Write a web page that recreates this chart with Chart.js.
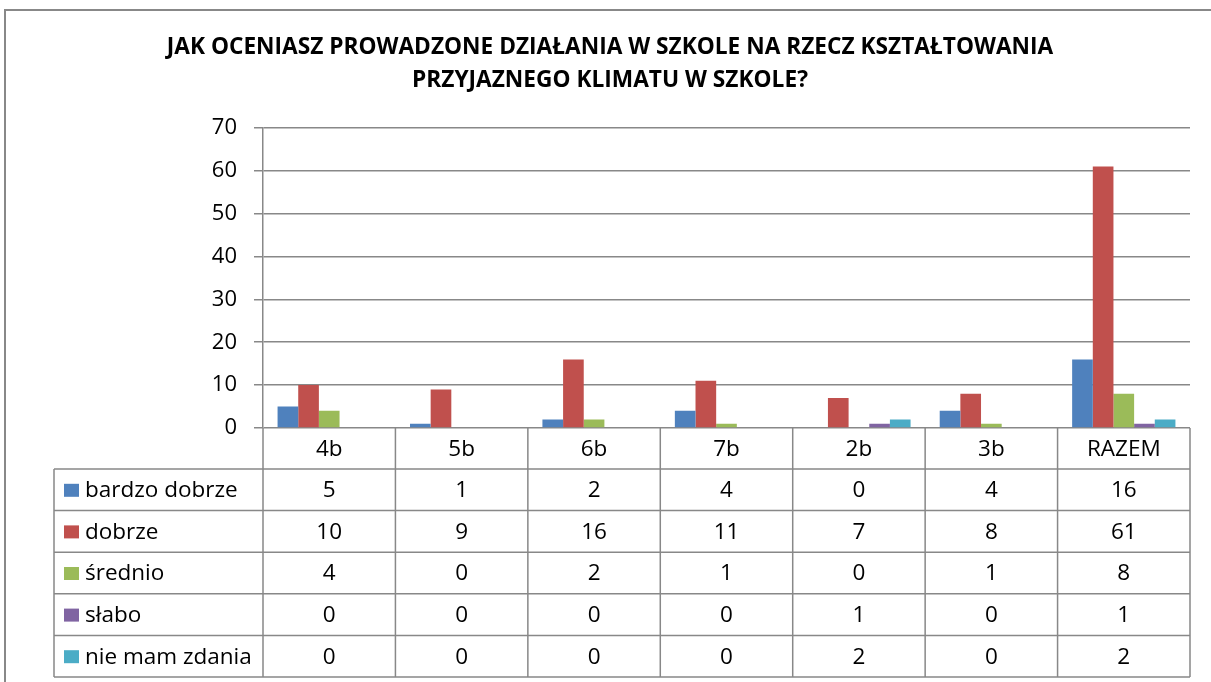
<!DOCTYPE html>
<html>
<head>
<meta charset="utf-8">
<script src="https://cdn.jsdelivr.net/npm/chart.js@4.4.1/dist/chart.umd.min.js"></script>
<style>
  html, body { margin: 0; padding: 0; background: #fff; }
</style>
</head>
<body>
<canvas id="wykres" width="1211" height="682"></canvas>
<script>
// dane z wykresu
const klasy = ['4b', '5b', '6b', '7b', '2b', '3b', 'RAZEM'];
const nazwySerii = ['bardzo dobrze', 'dobrze', 'średnio', 'słabo', 'nie mam zdania'];
const bardzoDobrze = [5, 1, 2, 4, 0, 4, 16];
const dobrze = [10, 9, 16, 11, 7, 8, 61];
const srednio = [4, 0, 2, 1, 0, 1, 8];
const slabo = [0, 0, 0, 0, 1, 0, 1];
const nieMamZdania = [0, 0, 0, 0, 2, 0, 2];
const kolory = ['#4F81BD', '#C0504D', '#9BBB59', '#8064A2', '#4BACC6'];
const tytul = ['JAK OCENIASZ PROWADZONE DZIAŁANIA W SZKOLE NA RZECZ KSZTAŁTOWANIA', 'PRZYJAZNEGO KLIMATU W SZKOLE?'];

const szary = '#888888';
const fontTabeli = '22.5px "Open Sans", sans-serif';

const wartosci = [bardzoDobrze, dobrze, srednio, slabo, nieMamZdania];

// ramka + tabela danych pod wykresem
const tabela = {
  id: 'tabela',
  beforeDraw(chart) {
    const c = chart.ctx;
    c.save();
    c.strokeStyle = szary;
    c.lineWidth = 2;
    c.beginPath();
    c.moveTo(5, 682);
    c.lineTo(5, 10);
    c.lineTo(1211, 10);
    c.stroke();
    c.restore();
  },
  afterDraw(chart) {
    const c = chart.ctx;
    const x = chart.scales.x;
    const area = chart.chartArea;
    const szer = x.getPixelForValue(1) - x.getPixelForValue(0);
    const gora = area.bottom;
    const hNagl = 41;
    const hWiersz = 41.6;
    const lewo = 54;
    const dol = gora + hNagl + hWiersz * 5;

    c.save();
    c.strokeStyle = szary;
    c.lineWidth = 1.5;
    c.beginPath();
    // pionowe linie kolumn
    for (let i = 0; i <= klasy.length; i++) {
      const px = x.getPixelForValue(0) - szer / 2 + i * szer;
      c.moveTo(px, gora);
      c.lineTo(px, dol);
    }
    c.moveTo(lewo, gora + hNagl);
    c.lineTo(lewo, dol);
    // poziome linie wierszy
    for (let r = 0; r <= 5; r++) {
      const py = gora + hNagl + r * hWiersz;
      c.moveTo(lewo, py);
      c.lineTo(area.right, py);
    }
    c.stroke();

    c.fillStyle = '#000';
    c.font = fontTabeli;
    c.textBaseline = 'middle';
    c.textAlign = 'center';
    klasy.forEach((k, i) => {
      c.fillText(k, x.getPixelForValue(i), gora + hNagl / 2 + 1);
    });
    nazwySerii.forEach((n, r) => {
      const py = gora + hNagl + r * hWiersz + hWiersz / 2 + 1;
      c.fillStyle = kolory[r];
      c.fillRect(64, py - 7, 15, 13);
      c.fillStyle = '#000';
      c.textAlign = 'left';
      c.fillText(n, 85, py);
      c.textAlign = 'center';
      wartosci[r].forEach((v, i) => {
        c.fillText(String(v), x.getPixelForValue(i), py);
      });
    });
    c.restore();
  }
};

new Chart(document.getElementById('wykres'), {
  type: 'bar',
  data: {
    labels: klasy,
    datasets: nazwySerii.map((n, i) => ({
      label: n,
      data: wartosci[i],
      backgroundColor: kolory[i],
      borderWidth: 0,
      categoryPercentage: 0.78,
      barPercentage: 1
    }))
  },
  options: {
    responsive: false,
    animation: false,
    layout: { padding: { left: 30, top: 0, right: 21, bottom: 254 } },
    plugins: {
      legend: { display: false },
      tooltip: { enabled: false },
      title: {
        display: true,
        text: tytul,
        color: '#000',
        font: { family: '"Open Sans", sans-serif', size: 22.7, weight: 'bold', lineHeight: 1.45 },
        padding: { top: 31, bottom: 31 }
      }
    },
    scales: {
      x: { display: false },
      y: {
        min: 0,
        max: 70,
        ticks: {
          stepSize: 10,
          color: '#000',
          padding: 17,
          font: { family: '"Open Sans", sans-serif', size: 22 }
        },
        grid: { color: szary, lineWidth: 1.5, tickLength: 9 },
        border: { display: true, color: szary, width: 1.5 },
        afterFit(s) { s.width = 233; }
      }
    }
  },
  plugins: [tabela]
});
</script>
</body>
</html>
